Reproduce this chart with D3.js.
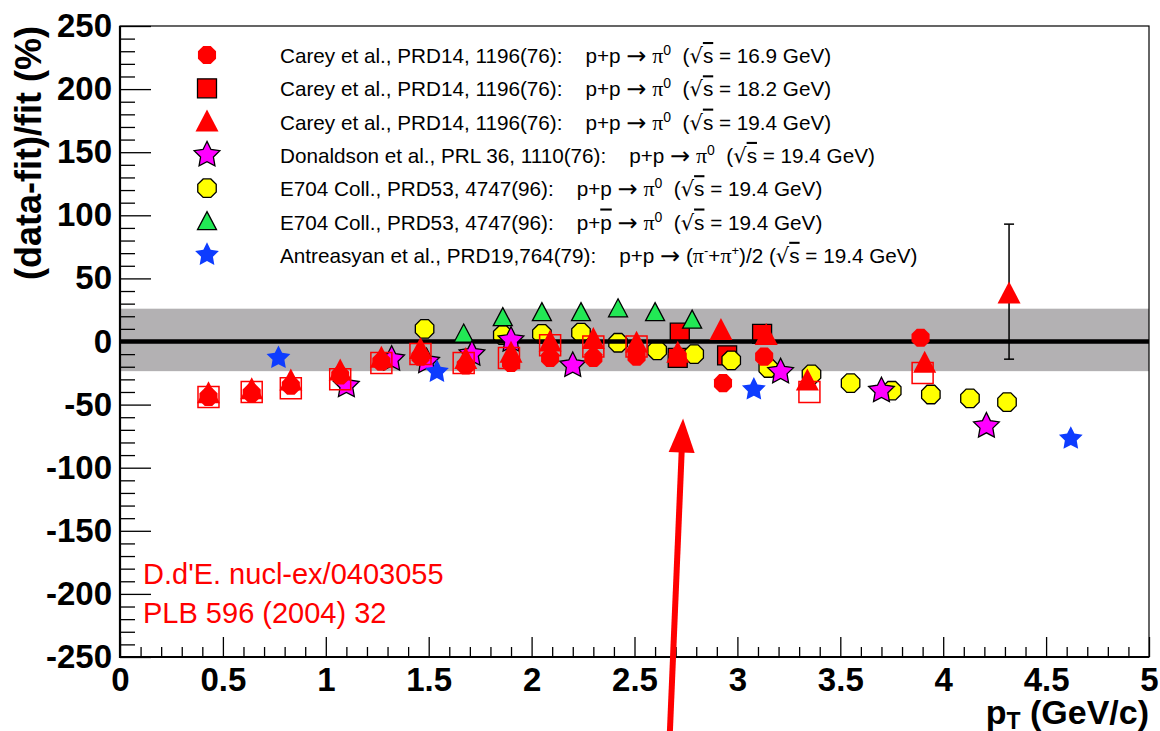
<!DOCTYPE html>
<html><head><meta charset="utf-8">
<script src="https://cdn.jsdelivr.net/npm/d3@7"></script>
<style>
body{margin:0;background:#fff;}
svg{display:block;font-family:"Liberation Sans",Arial,Helvetica,sans-serif;}
</style>
</head><body>
<svg id="c" width="1160" height="731"></svg>
<script>
// ---------------- data ----------------
const xTicks = [0, 0.5, 1, 1.5, 2, 2.5, 3, 3.5, 4, 4.5, 5];
const yTicks = [-250, -200, -150, -100, -50, 0, 50, 100, 150, 200, 250];
const bandRange = [-23.5, 26];

// Carey 16.9 GeV (red filled circles)
const carey169 = [[0.43,-44],[0.64,-41],[0.83,-35],[1.07,-27],[1.27,-16],[1.46,-12],[1.68,-19],[1.90,-17],[2.09,-13],[2.30,-13],[2.51,-12],[2.71,-12],[2.93,-33],[3.13,-12],[3.89,3]];
// Carey 18.2 GeV (red filled squares)
const carey182 = [[2.72,7],[2.71,-13],[2.95,-11],[3.12,6]];
// additional red open squares
const careyOpen = [[0.43,-44],[0.64,-40],[0.83,-37],[1.07,-30],[1.27,-17],[1.46,-10],[1.67,-17],[1.89,-13],[2.09,-3],[2.30,-4],[2.51,-4],[3.35,-40],[3.90,-25]];
// Carey 19.4 GeV (red filled triangles)
const carey194 = [[0.43,-41],[0.64,-38],[0.83,-31],[1.07,-23],[1.27,-13],[1.46,-6],[1.68,-14],[1.90,-9],[2.09,0],[2.30,2],[2.51,-1],[2.71,-9],[2.92,9],[3.14,5],[3.34,-31],[3.91,-17],[4.32,38]];
const carey194Err = [[4.32,-14,93]];
// Donaldson (magenta stars)
const donaldson = [[1.10,-35],[1.32,-14],[1.49,-16],[1.71,-10],[1.90,1],[2.20,-19],[3.21,-24],[3.70,-39],[4.21,-67]];
// E704 p+p (yellow circles)
const e704pp = [[1.48,10],[1.86,5],[2.05,6],[2.24,7],[2.42,-1],[2.61,-7],[2.79,-10],[2.97,-15],[3.15,-21],[3.36,-26],[3.55,-33],[3.75,-39],[3.94,-42],[4.13,-45],[4.31,-48]];
// E704 p+pbar (green triangles)
const e704ppbar = [[1.67,6],[1.86,19],[2.05,23],[2.24,23],[2.42,26],[2.60,23],[2.78,17]];
// Antreasyan (blue stars)
const antreasyan = [[0.77,-13],[1.54,-24],[3.08,-38],[4.62,-77]];

const arrowTail = [2.672, -309];
const arrowTip = [2.736, -61];

const noteLines = ["D.d'E. nucl-ex/0403055", "PLB 596 (2004) 32"];

// ---------------- setup ----------------
const svg = d3.select("#c");
const x = d3.scaleLinear().domain([0,5]).range([120,1149]);
const y = d3.scaleLinear().domain([-250,250]).range([657,26]);

function poly(pts){ return "M"+pts.map(p=>p[0].toFixed(2)+","+p[1].toFixed(2)).join("L")+"Z"; }
function octagon(r){ const p=[]; for(let i=0;i<8;i++){const a=Math.PI/8+i*Math.PI/4; p.push([r*Math.cos(a),r*Math.sin(a)]);} return poly(p); }
function tri(w,h){ return poly([[0,-h*0.55],[w/2,h*0.45],[-w/2,h*0.45]]); }
function sq(s){ return poly([[-s/2,-s/2],[s/2,-s/2],[s/2,s/2],[-s/2,s/2]]); }
function star(R,ratio){ const p=[]; for(let i=0;i<10;i++){const a=-Math.PI/2+i*Math.PI/5; const r=i%2?R*ratio:R; p.push([r*Math.cos(a),r*Math.sin(a)]);} return poly(p); }

const styles = {
  c169: {d: octagon(9.8), fill:"#ff0000", stroke:"none", sw:0},
  c182: {d: sq(19), fill:"#ff0000", stroke:"#000", sw:1.3},
  copen:{d: sq(21), fill:"none", stroke:"#ff0000", sw:1.5},
  c194: {d: tri(23,22), fill:"#ff0000", stroke:"none", sw:0},
  don:  {d: star(13.5,0.5), fill:"#ff00ff", stroke:"#000", sw:1.3},
  epp:  {d: octagon(10), fill:"#ffff00", stroke:"#000", sw:1.3},
  epb:  {d: tri(19,18), fill:"#22e855", stroke:"#000", sw:1.3},
  ant:  {d: star(12.5,0.5), fill:"#0d3cff", stroke:"none", sw:0}
};

// band
svg.append("rect")
  .attr("x", x(0)).attr("width", x(5)-x(0))
  .attr("y", y(bandRange[1])).attr("height", y(bandRange[0])-y(bandRange[1]))
  .attr("fill", "#b3b1b3");

function drawSeries(data, st){
  svg.append("g").selectAll("path").data(data).join("path")
    .attr("transform", d=>`translate(${x(d[0])},${y(d[1])})`)
    .attr("d", st.d).attr("fill", st.fill)
    .attr("stroke", st.stroke).attr("stroke-width", st.sw);
}

drawSeries(carey182, styles.c182);
drawSeries(e704pp, styles.epp);

svg.append("line").attr("x1",x(0)).attr("x2",x(5)).attr("y1",y(0)).attr("y2",y(0))
  .attr("stroke","#000").attr("stroke-width",4.5);

drawSeries(e704ppbar, styles.epb);
drawSeries(donaldson, styles.don);
drawSeries(carey169, styles.c169);
drawSeries(careyOpen, styles.copen);
const eb = svg.append("g").attr("stroke","#000").attr("stroke-width",1.5);
carey194Err.forEach(e=>{
  eb.append("line").attr("x1",x(e[0])).attr("x2",x(e[0])).attr("y1",y(e[1])).attr("y2",y(e[2]));
  eb.append("line").attr("x1",x(e[0])-5).attr("x2",x(e[0])+5).attr("y1",y(e[1])).attr("y2",y(e[1]));
  eb.append("line").attr("x1",x(e[0])-5).attr("x2",x(e[0])+5).attr("y1",y(e[2])).attr("y2",y(e[2]));
});
drawSeries(carey194, styles.c194);
drawSeries(antreasyan, styles.ant);

// ---------------- legend ----------------
svg.append("rect").attr("x",136).attr("y",30).attr("width",855).attr("height",242).attr("fill","#fff");

const legendSeries = ["c169","c182","c194","don","epp","epb","ant"];
const legendRefs = [
  "Carey et al., PRD14, 1196(76):",
  "Carey et al., PRD14, 1196(76):",
  "Carey et al., PRD14, 1196(76):",
  "Donaldson et al., PRL 36, 1110(76):",
  "E704 Coll., PRD53, 4747(96):",
  "E704 Coll., PRD53, 4747(96):",
  "Antreasyan et al., PRD19,764(79):"
];
const legendEnergies = ["16.9","18.2","19.4","19.4","19.4","19.4","19.4"];
const legendBar = [false,false,false,false,false,true,false];
const legendPion = [false,false,false,false,false,false,true];

const lgX = 207, txX = 280, lg0 = 55, lgStep = 33.3, fs = 20.7;
legendSeries.forEach((k,i)=>{
  const cy = lg0 + i*lgStep;
  const st = styles[k];
  svg.append("path").attr("transform",`translate(${lgX},${cy})`).attr("d",st.d)
    .attr("fill",st.fill).attr("stroke",st.stroke).attr("stroke-width",st.sw);
  const t = svg.append("text").attr("x",txX).attr("y",cy+8).attr("font-size",fs)
    .attr("fill","#000").style("white-space","pre");
  t.append("tspan").text(legendRefs[i] + "    p+");
  if(legendBar[i]) t.append("tspan").style("text-decoration","overline").text("p");
  else t.append("tspan").text("p");
  t.append("tspan").text(" ");
  t.append("tspan").attr("font-family","DejaVu Sans").attr("font-size",24).attr("dy",1).text("\u2192");
  t.append("tspan").attr("dy",-1).text(" ");
  const piFont = "Liberation Serif";
  if(legendPion[i]){
    t.append("tspan").text("(");
    t.append("tspan").attr("font-family",piFont).attr("font-size",22).text("\u03c0");
    t.append("tspan").attr("font-size",13).attr("dy",-8).text("-");
    t.append("tspan").attr("dy",8).text("+");
    t.append("tspan").attr("font-family",piFont).attr("font-size",22).text("\u03c0");
    t.append("tspan").attr("font-size",13).attr("dy",-8).text("+");
    t.append("tspan").attr("dy",8).text(")/2 (");
  } else {
    t.append("tspan").attr("font-family",piFont).attr("font-size",22).text("\u03c0");
    t.append("tspan").attr("font-size",14).attr("dy",-8).text("0");
    t.append("tspan").attr("dy",8).text("  (");
  }
  t.append("tspan").attr("font-family","DejaVu Sans").attr("font-size",21).text("\u221a");
  t.append("tspan").style("text-decoration","overline").text("s");
  t.append("tspan").text(" = " + legendEnergies[i] + " GeV)");
});

// ---------------- axes ----------------
const gy = svg.append("g").attr("transform",`translate(${x(0)},0)`);
gy.call(d3.axisLeft(y).tickValues(d3.range(-250,251,10).filter(v=>v%50!==0)).tickSize(-15).tickFormat(""));
gy.select(".domain").remove();
const gy2 = svg.append("g").attr("transform",`translate(${x(0)},0)`);
gy2.call(d3.axisLeft(y).tickValues(yTicks).tickSize(-31).tickPadding(8).tickFormat(d=>String(d)));
gy2.select(".domain").remove();
gy2.selectAll("text").attr("font-size",33).attr("font-weight","bold").attr("font-family","Liberation Sans, Arial, sans-serif").attr("fill","#000");
gy.selectAll("line").attr("stroke","#000").attr("stroke-width",1.3);
gy2.selectAll("line").attr("stroke","#000").attr("stroke-width",1.3);

const gx = svg.append("g").attr("transform",`translate(0,${y(-250)})`);
gx.call(d3.axisBottom(x).tickValues(d3.range(0,51,1).filter(v=>v%5!==0).map(v=>v/10)).tickSize(-10).tickFormat(""));
gx.select(".domain").remove();
const gx2 = svg.append("g").attr("transform",`translate(0,${y(-250)})`);
gx2.call(d3.axisBottom(x).tickValues(xTicks).tickSize(-20).tickPadding(11).tickFormat(d=>String(d)));
gx2.select(".domain").remove();
gx2.selectAll("text").attr("font-size",33).attr("font-weight","bold").attr("font-family","Liberation Sans, Arial, sans-serif").attr("fill","#000");
gx.selectAll("line").attr("stroke","#000").attr("stroke-width",1.3);
gx2.selectAll("line").attr("stroke","#000").attr("stroke-width",1.3);

svg.append("rect").attr("x",x(0)).attr("y",y(250)).attr("width",x(5)-x(0)).attr("height",y(-250)-y(250))
  .attr("fill","none").attr("stroke","#000").attr("stroke-width",1.2);
svg.append("line").attr("x1",x(0)).attr("x2",x(0)).attr("y1",y(250)).attr("y2",y(-250)+1).attr("stroke","#000").attr("stroke-width",2.2);
svg.append("line").attr("x1",x(0)-1).attr("x2",x(5)).attr("y1",y(-250)).attr("y2",y(-250)).attr("stroke","#000").attr("stroke-width",2.2);

// axis titles
svg.append("text").attr("transform",`translate(41,${y(250)}) rotate(-90)`)
  .attr("text-anchor","end").attr("font-size",36).attr("font-weight","bold").text("(data-fit)/fit (%)");
const xt = svg.append("text").attr("x",x(5)).attr("y",724).attr("text-anchor","end")
  .attr("font-size",34).attr("font-weight","bold");
xt.append("tspan").text("p");
xt.append("tspan").attr("font-size",23).attr("dy",5).text("T");
xt.append("tspan").attr("dy",-5).text(" (GeV/c)");

// note
noteLines.forEach((s,i)=>{
  svg.append("text").attr("x",143).attr("y",584+i*39).attr("font-size",29).attr("fill","#ff0000").text(s);
});

// arrow
const ax0 = x(arrowTail[0]), ay0 = y(arrowTail[1]), ax1 = x(arrowTip[0]), ay1 = y(arrowTip[1]);
const dx = ax1-ax0, dy = ay1-ay0, L = Math.hypot(dx,dy), ux = dx/L, uy = dy/L;
const headL = 34, headW = 13;
const bx = ax1-ux*headL, by = ay1-uy*headL;
svg.append("line").attr("x1",ax0).attr("y1",ay0).attr("x2",bx+ux*2).attr("y2",by+uy*2)
  .attr("stroke","#ff0000").attr("stroke-width",6);
svg.append("path").attr("d",poly([[ax1,ay1],[bx-uy*headW,by+ux*headW],[bx+uy*headW,by-ux*headW]])).attr("fill","#ff0000");
</script>
</body></html>
